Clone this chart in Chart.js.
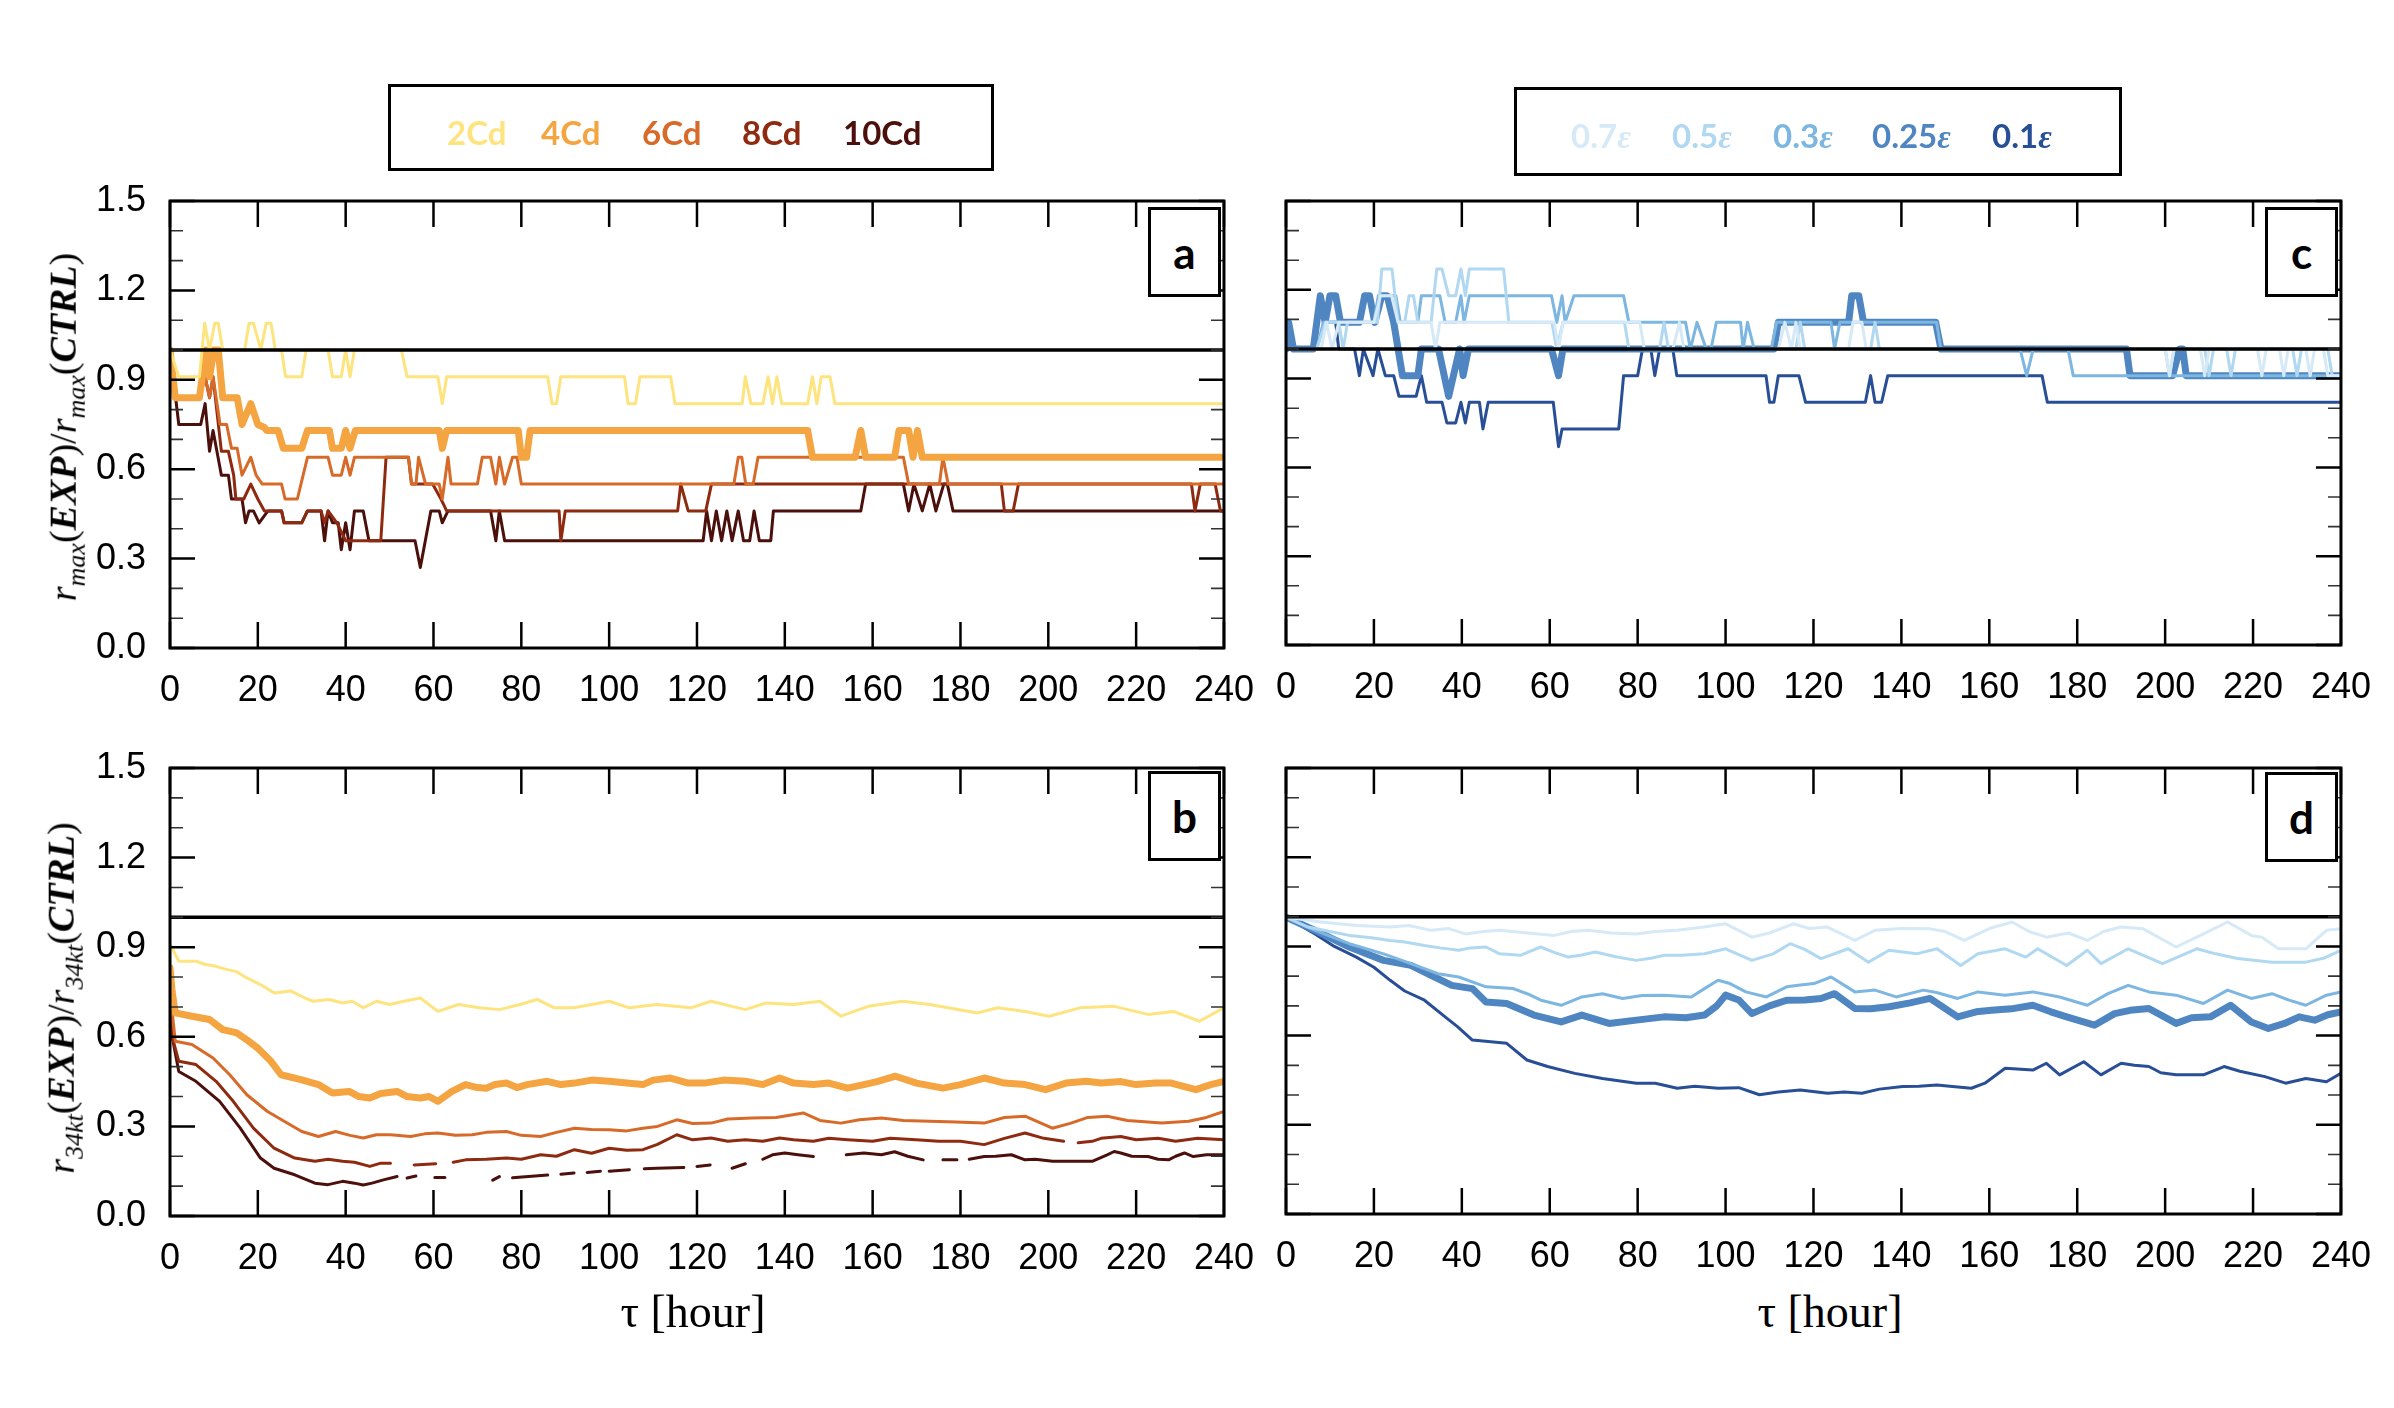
<!DOCTYPE html>
<html>
<head>
<meta charset="utf-8">
<script src="https://cdn.jsdelivr.net/npm/chart.js@4.4.0/dist/chart.umd.min.js"></script>
<style>
  body { margin: 0; background: #fff; width: 2394px; height: 1408px; position: relative; overflow: hidden; }
  canvas { position: absolute; }
  .box { position: absolute; border: 3px solid #000; box-sizing: border-box; }
  .item { position: absolute; transform: translateY(-50%); font-family: Lato, sans-serif; font-weight: 700; font-size: 33px; white-space: nowrap; }
  .item i { font-family: "Liberation Serif", serif; }
  .tag { position: absolute; border: 3px solid #000; box-sizing: border-box; background: #fff; font-family: Lato, sans-serif; font-weight: 700; font-size: 44px; display: flex; align-items: center; justify-content: center; }
  .ytitle { position: absolute; transform: translate(-50%, -50%) rotate(-90deg); font-family: "Liberation Serif", serif; font-size: 38px; white-space: nowrap; }
  .ytitle sub { font-size: 26px; font-style: italic; }
  .xtitle { position: absolute; transform: translate(-50%, -50%); font-family: "Liberation Serif", serif; font-size: 46px; white-space: nowrap; }
</style>
</head>
<body>
<canvas id="chartA"></canvas>
<canvas id="chartB"></canvas>
<canvas id="chartC"></canvas>
<canvas id="chartD"></canvas>

<div class="box" style="left:388px;top:84px;width:606px;height:87px"></div>
<div class="box" style="left:1514px;top:87px;width:608px;height:89px"></div>
<div id="legendA"></div>
<div id="legendC"></div>

<div class="tag" style="left:1148px;top:207px;width:73px;height:90px">a</div>
<div class="tag" style="left:1148px;top:771px;width:73px;height:90px">b</div>
<div class="tag" style="left:2265px;top:207px;width:73px;height:90px">c</div>
<div class="tag" style="left:2265px;top:772px;width:73px;height:90px">d</div>

<div class="ytitle" style="left:66px;top:427px"><i>r</i><sub>max</sub>(<b><i>EXP</i></b>)/<i>r</i><sub>max</sub>(<b><i>CTRL</i></b>)</div>
<div class="ytitle" style="left:64px;top:998px"><i>r</i><sub>34kt</sub>(<b><i>EXP</i></b>)/<i>r</i><sub>34kt</sub>(<b><i>CTRL</i></b>)</div>
<div class="xtitle" style="left:693px;top:1311px">τ [hour]</div>
<div class="xtitle" style="left:1830px;top:1311px">τ [hour]</div>

<script>
'use strict';

// tick values and labels
const xTickValues = [0, 20, 40, 60, 80, 100, 120, 140, 160, 180, 200, 220, 240];
const yTickValues = [0, 0.1, 0.2, 0.3, 0.4, 0.5, 0.6, 0.7, 0.8, 0.9, 1.0, 1.1, 1.2, 1.3, 1.4, 1.5];
const yLabelled = [0, 0.3, 0.6, 0.9, 1.2, 1.5];

// reference line at ratio 1
const refLine = [[0, 1], [240, 1]];

// legend names and colours
const cdNames = ['2Cd', '4Cd', '6Cd', '8Cd', '10Cd'];
const cdColors = ['#fde47f', '#f4a541', '#d76a28', '#8e2a10', '#4b0f0c'];
const cdWidths = [3, 7, 3, 3, 3];
const epsNames = ['0.7', '0.5', '0.3', '0.25', '0.1'];
const epsColors = ['#d6e9f7', '#b1d8f1', '#7cb6e1', '#4f86c2', '#284f96'];
const epsWidths = [3, 3, 3, 7, 3];

// panel a: r_max ratio, drag experiments  [hour, value]
const a2Cd = [[0,1.0],[2,0.91],[6.7,0.91],[7.9,1.09],[9,1.0],[10.2,1.09],[11,1.09],[12,1.0],[17,1.0],[18,1.09],[19,1.09],[20.7,1.0],[21.9,1.09],[23,1.09],[24,1.0],[25.4,1.0],[26.3,0.91],[30,0.91],[31,1.0],[36,1.0],[37,0.91],[39,0.91],[40,1.0],[41,0.91],[42,1.0],[52.7,1.0],[54,0.91],[61,0.91],[62,0.82],[63,0.91],[86,0.91],[87,0.82],[88,0.82],[89,0.91],[103.5,0.91],[104.3,0.82],[106,0.82],[107,0.91],[114,0.91],[115,0.82],[130.3,0.82],[131,0.91],[132.3,0.82],[135,0.82],[136.2,0.91],[137.2,0.82],[138.2,0.91],[139.3,0.82],[145.2,0.82],[146.3,0.91],[147.3,0.82],[148.3,0.91],[150.3,0.91],[151.4,0.82],[240,0.82]];
const a4Cd = [[0,1.0],[1.2,0.84],[6.7,0.84],[8.2,1.0],[9,0.91],[10,1.0],[11,1.0],[12,0.84],[15.3,0.84],[16.4,0.75],[18.4,0.82],[20,0.75],[21.5,0.74],[22,0.73],[24.6,0.73],[25.8,0.67],[30,0.67],[31.3,0.73],[36.3,0.73],[37,0.67],[39,0.67],[40,0.73],[41,0.67],[42.2,0.73],[61.3,0.73],[62,0.67],[63,0.73],[79.3,0.73],[80,0.64],[81.2,0.64],[82,0.73],[145.2,0.73],[146.3,0.64],[156,0.64],[157.3,0.73],[158.4,0.64],[165,0.64],[166,0.73],[168.2,0.73],[169.2,0.64],[170.2,0.73],[171.3,0.64],[240,0.64]];
const a6Cd = [[0,1.0],[1.2,0.84],[6.7,0.84],[8,0.91],[9,0.84],[9.8,0.91],[11.4,0.75],[12.9,0.75],[14,0.67],[15.3,0.67],[16.4,0.58],[18.4,0.64],[19.6,0.58],[21,0.55],[25.4,0.55],[26.2,0.5],[29,0.5],[31.3,0.64],[36,0.64],[37,0.58],[39,0.58],[40,0.64],[41,0.58],[42,0.64],[54.3,0.64],[55,0.55],[56,0.55],[56.6,0.64],[58.2,0.55],[61.3,0.55],[62,0.5],[63.3,0.64],[64,0.55],[70,0.55],[71.1,0.64],[73,0.64],[74.2,0.55],[75,0.64],[76.2,0.55],[78,0.64],[79,0.64],[80,0.55],[128.4,0.55],[129.4,0.64],[130.2,0.64],[131.1,0.55],[132.8,0.55],[133.9,0.64],[167,0.64],[168.2,0.55],[175.2,0.55],[176,0.64],[177.2,0.55],[240,0.55]];
const a8Cd = [[0,1.0],[1.2,0.84],[6.7,0.84],[8,0.91],[9,0.84],[9.8,0.91],[11.7,0.66],[13.3,0.66],[14.5,0.58],[15,0.5],[16.8,0.5],[18.4,0.55],[20,0.5],[21.5,0.46],[25.4,0.46],[26,0.42],[30,0.42],[31.3,0.46],[34.4,0.46],[35.2,0.42],[36,0.46],[38,0.42],[40,0.36],[48,0.36],[49.2,0.64],[54.3,0.64],[55,0.55],[59.8,0.55],[61.7,0.5],[63,0.46],[88.6,0.46],[89,0.36],[90,0.46],[115.6,0.46],[116.3,0.55],[118,0.46],[122,0.46],[123.3,0.55],[189.3,0.55],[190,0.46],[192,0.46],[193.2,0.55],[232.6,0.55],[233.4,0.46],[234.6,0.55],[238,0.55],[239.2,0.46],[240,0.46]];
const a10Cd = [[0,1.0],[2,0.75],[7,0.75],[8,0.82],[9,0.66],[9.8,0.73],[11.7,0.58],[13.3,0.58],[14,0.5],[16.4,0.5],[17.2,0.42],[18,0.46],[19,0.46],[20.3,0.42],[22.3,0.46],[25.4,0.46],[26,0.42],[30,0.42],[31.3,0.46],[34.4,0.46],[35.2,0.36],[36,0.46],[37,0.42],[38.3,0.42],[39,0.33],[40,0.42],[41,0.33],[42,0.46],[44,0.46],[45.3,0.36],[55.8,0.36],[57,0.27],[59.4,0.46],[61.3,0.46],[62,0.42],[63.3,0.46],[73,0.46],[74.2,0.36],[75,0.46],[76.2,0.36],[121.4,0.36],[122.2,0.46],[123.3,0.36],[124.4,0.46],[125.6,0.36],[126.8,0.46],[128,0.36],[129.4,0.46],[130.6,0.36],[132,0.36],[133,0.46],[134.2,0.36],[136.8,0.36],[137.4,0.46],[157.3,0.46],[158.4,0.55],[167,0.55],[168.2,0.46],[169.4,0.55],[171.3,0.46],[173,0.55],[174.4,0.46],[176.2,0.55],[177,0.55],[178.3,0.46],[240,0.46]];

// panel b: r_34kt ratio, drag experiments (null = gap)
const b2Cd = [[0,0.91],[2,0.853],[6,0.853],[8,0.842],[10.5,0.836],[13,0.825],[15,0.819],[17.5,0.797],[20.6,0.775],[23.7,0.747],[27.6,0.753],[30.7,0.73],[32.5,0.719],[36.2,0.725],[39.3,0.713],[41.5,0.719],[44,0.697],[47,0.719],[50,0.708],[53.3,0.719],[57,0.73],[61,0.685],[65.7,0.708],[70.4,0.697],[75,0.691],[79.7,0.708],[83.6,0.725],[87.5,0.697],[92,0.697],[100,0.719],[104.6,0.697],[110.8,0.708],[118.6,0.697],[123.2,0.719],[131,0.691],[135.7,0.713],[141.9,0.708],[148,0.719],[152.8,0.669],[159,0.702],[166.8,0.719],[173,0.708],[183.9,0.68],[188.5,0.697],[194.7,0.685],[200.2,0.669],[207.2,0.697],[215,0.702],[222.7,0.675],[228.5,0.685],[234.4,0.652],[240,0.697]];
const b4Cd = [[0,0.831],[0.5,0.75],[1.2,0.68],[5,0.669],[9,0.658],[12,0.624],[15.2,0.613],[17.5,0.59],[19.9,0.563],[23,0.518],[25.3,0.473],[30,0.456],[33.8,0.44],[37,0.412],[40.8,0.417],[43,0.4],[45.5,0.395],[48,0.41],[51.7,0.417],[54,0.4],[57,0.395],[59,0.4],[61,0.384],[64.2,0.417],[67.3,0.44],[70,0.43],[72,0.428],[74,0.44],[76.6,0.445],[79,0.43],[81.3,0.44],[85.9,0.451],[89,0.44],[92.1,0.445],[96,0.455],[100,0.451],[104,0.445],[107.7,0.44],[110,0.455],[113.9,0.462],[118,0.445],[121.7,0.445],[126,0.455],[131,0.451],[135,0.44],[138.8,0.462],[142,0.445],[146.5,0.44],[150,0.445],[154.3,0.428],[158,0.44],[161,0.45],[165.2,0.468],[170,0.445],[176,0.428],[180,0.44],[185.4,0.462],[190,0.445],[194.7,0.44],[199.4,0.423],[204,0.445],[208.7,0.451],[212,0.445],[216.5,0.45],[220,0.44],[224.3,0.445],[228,0.445],[233.6,0.423],[237,0.44],[240,0.451]];
const b6Cd = [[0,0.753],[1.2,0.585],[5,0.574],[9.8,0.529],[13.6,0.473],[17.5,0.406],[22.2,0.35],[26,0.317],[30,0.283],[33.8,0.266],[37.7,0.283],[41,0.27],[44,0.261],[47,0.272],[50.2,0.272],[54.8,0.266],[58,0.275],[61,0.278],[65,0.27],[68.8,0.272],[72,0.28],[76.6,0.283],[80,0.27],[84.4,0.266],[88,0.28],[92.1,0.294],[96,0.29],[100,0.289],[104,0.285],[107.7,0.294],[111,0.3],[115.4,0.322],[119,0.31],[123.2,0.311],[127,0.325],[132.5,0.328],[138,0.33],[144.2,0.345],[148,0.32],[152.8,0.311],[157,0.322],[162,0.328],[167,0.32],[173,0.317],[179,0.315],[185.4,0.311],[190,0.33],[194.7,0.334],[200.9,0.294],[205,0.31],[209,0.33],[213.4,0.334],[218,0.32],[225.8,0.311],[232,0.317],[236,0.33],[240,0.35]];
const b8Cd = [[0,0.719],[0.5,0.6],[2,0.518],[5.9,0.507],[10.5,0.451],[14.4,0.384],[19,0.294],[23.7,0.227],[28.4,0.194],[33,0.183],[36,0.19],[39.3,0.183],[42,0.18],[45.5,0.166],[48,0.177],[50.2,0.177],[51.5,null],[55.6,0.171],[60.5,0.175],[61.5,null],[64.5,0.18],[67.3,0.188],[72,0.19],[76.6,0.194],[80,0.19],[84.4,0.205],[88,0.2],[92.1,0.222],[96,0.21],[100,0.227],[104,0.22],[107.7,0.222],[111,0.24],[115.4,0.272],[119,0.255],[123.2,0.261],[127,0.25],[131,0.255],[135,0.25],[138.8,0.261],[142,0.255],[146.5,0.25],[150,0.26],[154.3,0.255],[160,0.25],[164,0.26],[169.9,0.255],[175,0.25],[180,0.25],[185.4,0.239],[190,0.26],[194.7,0.278],[199,0.26],[203.5,0.25],[204.5,null],[206.8,0.245],[210,0.25],[212,0.26],[216.5,0.266],[220,0.255],[225,0.26],[229,0.25],[234,0.26],[240,0.255]];
const b10Cd = [[0,0.68],[0.5,0.6],[2,0.484],[5.9,0.451],[11.3,0.384],[16,0.294],[20.6,0.194],[23.7,0.16],[28.4,0.138],[33,0.11],[36,0.105],[39.3,0.116],[42,0.11],[44,0.104],[46,0.11],[48.6,0.121],[51.7,0.132],[52.5,null],[54,0.127],[56,0.134],[57,null],[60.3,0.129],[62.6,0.129],[63.5,null],[73.5,0.12],[75,0.132],[76,null],[78,0.128],[86,0.137],[87,null],[89,0.14],[92,0.144],[93,null],[95,0.146],[98,0.15],[99,null],[100,0.15],[104.6,0.155],[106,null],[108,0.158],[110.8,0.16],[117,0.162],[118,null],[120,0.166],[123,0.171],[124,null],[128,0.16],[131,0.175],[132.5,null],[135,0.19],[137.2,0.205],[140,0.211],[143,0.205],[146.5,0.199],[148,null],[154,0.205],[158,0.211],[162,0.205],[165,0.215],[168,0.2],[171.5,0.188],[172.5,null],[176,0.188],[179.2,0.188],[180,null],[182,0.19],[185.4,0.199],[188,0.2],[191.6,0.205],[194.7,0.188],[197,0.19],[201,0.183],[205,0.183],[210,0.183],[213.4,0.205],[215,0.216],[216.5,0.211],[219,0.2],[222.7,0.199],[225,0.19],[227.4,0.188],[229,0.2],[231,0.211],[233,0.199],[236,0.205],[240,0.205]];

// panel c: r_max ratio, epsilon experiments
const c07 = [[0,1.0],[8,1.0],[9.2,1.09],[10.5,1.0],[12,1.09],[20,1.09],[21.5,1.18],[24,1.18],[25.5,1.09],[33,1.09],[34,1.0],[35,1.09],[61,1.09],[62,1.0],[63,1.09],[80.5,1.09],[81.5,1.0],[88,1.0],[89.5,1.09],[90.5,1.0],[112,1.0],[113.5,1.09],[115,1.0],[116,1.09],[117,1.0],[128,1.0],[129,1.09],[131,1.09],[132,1.0],[200,1.0],[201,0.91],[202,1.0],[208,1.0],[209,0.91],[210,1.0],[221,1.0],[222,0.91],[223,1.0],[226,1.0],[227,0.91],[228,1.0],[232,1.0],[233,0.91],[234,1.0],[236,1.0],[237,0.91],[240,0.91]];
const c05 = [[0,1.0],[7,1.0],[9,1.09],[12,1.09],[13,1.0],[14,1.09],[20.8,1.09],[21.8,1.27],[24.1,1.27],[25.5,1.09],[27,1.09],[28,1.18],[29,1.18],[30,1.09],[33,1.09],[34.3,1.27],[35.5,1.27],[37,1.18],[38.6,1.18],[39.8,1.27],[40.8,1.18],[41.7,1.27],[49.5,1.27],[50.7,1.09],[60.5,1.09],[61.6,1.0],[63,1.09],[77,1.09],[78,1.0],[85,1.0],[86,1.09],[87,1.0],[116,1.0],[117,1.09],[118,1.0],[133,1.0],[134,1.09],[135,1.0],[200,1.0],[201,0.91],[202,1.0],[209,1.0],[210,0.91],[211,1.0],[214,1.0],[215,0.91],[216,1.0],[229,1.0],[230,0.91],[231,1.0],[237,1.0],[238,0.91],[240,0.91]];
const c03 = [[0,1.0],[7,1.0],[8.5,1.09],[20,1.09],[21,1.18],[25,1.18],[26,1.09],[30,1.09],[30.8,1.18],[35,1.18],[36.2,1.09],[38.6,1.09],[39.8,1.18],[40.5,1.09],[41.7,1.18],[60.4,1.18],[61.6,1.09],[62.8,1.18],[63.5,1.09],[65.5,1.18],[76.8,1.18],[78,1.09],[90.9,1.09],[92,1.0],[93.5,1.09],[95.6,1.0],[96.7,1.0],[97.9,1.09],[103.4,1.09],[104,1.0],[105,1.09],[106.5,1.0],[110.4,1.0],[111.6,1.09],[124,1.09],[124.8,1.0],[126,1.09],[148,1.09],[149,1.0],[167,1.0],[168.5,0.91],[170,1.0],[177.9,1.0],[179.1,0.91],[240,0.91]];
const c025 = [[0,1.0],[0.6,1.09],[1.7,1.0],[6.2,1.0],[7.8,1.18],[8.9,1.09],[10,1.18],[11.3,1.18],[12.4,1.09],[16.7,1.09],[17.9,1.18],[19,1.18],[20.2,1.09],[21.8,1.18],[23,1.18],[24.5,1.09],[26.5,0.91],[30,0.91],[30.8,1.0],[34.7,1.0],[37,0.84],[39.5,1.0],[40.3,0.91],[41.5,1.0],[60.4,1.0],[62,0.91],[63,1.0],[111,1.0],[112,1.09],[128,1.09],[128.7,1.18],[130.3,1.18],[131.4,1.09],[147.8,1.09],[149,1.0],[191.2,1.0],[192,0.91],[201.7,0.91],[203.3,1.0],[204,1.0],[204.8,0.91],[240,0.91]];
const c01 = [[0,1.0],[0.4,1.09],[1.2,1.0],[6.2,1.0],[7.8,1.18],[8.9,1.09],[11.3,1.09],[12,1.0],[15.6,1.0],[16.7,0.91],[17.6,1.0],[19.8,0.91],[20.9,1.0],[22.6,0.91],[24.5,0.91],[25.7,0.84],[29.6,0.84],[30.8,0.91],[32,0.82],[35.5,0.82],[36.6,0.75],[38.6,0.75],[39.8,0.82],[40.8,0.75],[41.7,0.82],[44,0.82],[44.8,0.73],[46,0.82],[60.8,0.82],[62,0.67],[62.8,0.73],[75.7,0.73],[76.8,0.91],[80,0.91],[81.1,1.0],[83,1.0],[83.9,0.91],[85,1.0],[88,1.0],[88.9,0.91],[109.2,0.91],[110,0.82],[111,0.82],[112,0.91],[116.7,0.91],[118.2,0.82],[131.8,0.82],[133,0.91],[134,0.82],[135.5,0.82],[136.9,0.91],[172,0.91],[173.2,0.82],[240,0.82]];

// panel d: r_34kt ratio, epsilon experiments
const d07 = [[0,0.998],[8,0.982],[16,0.97],[23.7,0.965],[28,0.97],[33,0.954],[37,0.96],[40.8,0.942],[45,0.95],[48.6,0.954],[55,0.945],[61,0.937],[65,0.95],[68.8,0.954],[74,0.945],[79.7,0.942],[84,0.95],[89,0.954],[95,0.965],[100,0.976],[106,0.931],[110,0.945],[115.4,0.976],[119,0.96],[123.2,0.965],[129.4,0.92],[134,0.954],[140,0.96],[146.5,0.959],[150,0.95],[154.3,0.92],[160,0.96],[165.2,0.982],[169,0.95],[173,0.931],[178,0.945],[182.3,0.92],[186,0.95],[190,0.965],[195,0.959],[202.5,0.898],[207.2,0.931],[214.2,0.982],[219.6,0.937],[222,0.931],[225.8,0.892],[232,0.892],[236.7,0.954],[240,0.959]];
const d05 = [[0,0.998],[5,0.965],[10,0.95],[14.4,0.937],[19,0.93],[23.7,0.92],[27,0.915],[31.5,0.903],[35,0.895],[39.3,0.887],[42,0.895],[45.5,0.898],[48.6,0.875],[53.3,0.87],[57.9,0.898],[61,0.88],[64.2,0.864],[67,0.87],[70.4,0.881],[75,0.865],[79.7,0.853],[83,0.86],[86,0.87],[90,0.87],[95.2,0.875],[100,0.892],[106,0.853],[110.8,0.875],[114.7,0.909],[118,0.89],[121.7,0.859],[127.9,0.892],[132.5,0.847],[137.2,0.887],[143.4,0.875],[148.1,0.892],[153.5,0.836],[157.4,0.875],[163.6,0.892],[168.3,0.864],[171,0.892],[177.6,0.836],[182.3,0.887],[185.4,0.842],[191.6,0.892],[199.4,0.842],[207.2,0.892],[211.5,0.875],[216.5,0.859],[224.3,0.847],[232,0.847],[236,0.86],[240,0.887]];
const d03 = [[0,0.998],[6.6,0.954],[14.4,0.909],[22.2,0.875],[28.4,0.842],[34.6,0.808],[39.3,0.797],[45.5,0.764],[51.7,0.758],[55,0.74],[58,0.719],[62.6,0.702],[67.3,0.73],[72,0.741],[76.6,0.725],[81,0.735],[86,0.736],[92.2,0.73],[95.2,0.758],[98.3,0.786],[101,0.775],[104.6,0.747],[109.3,0.73],[113.9,0.764],[117,0.77],[120.1,0.775],[124,0.797],[129.4,0.747],[134,0.753],[138.8,0.73],[145,0.753],[148,0.745],[152.8,0.725],[157.4,0.747],[163.6,0.736],[169.9,0.747],[176,0.73],[182.3,0.702],[187,0.741],[191.6,0.769],[196.3,0.747],[202.5,0.736],[208.7,0.708],[214.2,0.753],[219.6,0.725],[224.3,0.741],[228,0.72],[232,0.702],[236.7,0.736],[240,0.747]];
const d025 = [[0,0.998],[6.6,0.954],[14.4,0.898],[22.2,0.853],[28.4,0.836],[33,0.803],[37.7,0.769],[42.4,0.758],[45.5,0.713],[50.2,0.708],[56.4,0.669],[62.6,0.646],[67.3,0.669],[73.5,0.641],[79.7,0.652],[86,0.663],[91,0.66],[95.2,0.669],[98,0.7],[100,0.736],[103,0.72],[106,0.674],[110,0.7],[113.9,0.719],[118,0.72],[121.7,0.725],[124.8,0.741],[129.4,0.691],[133,0.69],[137.2,0.697],[142,0.71],[146.5,0.725],[152.8,0.663],[157,0.68],[160.5,0.685],[165,0.69],[169.9,0.702],[174,0.68],[177.6,0.663],[183.9,0.635],[188.5,0.674],[192,0.685],[196.3,0.691],[202.5,0.641],[206,0.66],[210.3,0.663],[214.9,0.702],[219.6,0.646],[223.5,0.624],[227,0.64],[230.5,0.663],[234,0.652],[237,0.67],[240,0.68]];
const d01 = [[0,0.998],[6.6,0.942],[11,0.9],[16,0.864],[20,0.83],[23.7,0.786],[27,0.75],[31.5,0.719],[36.2,0.663],[39,0.63],[42.4,0.585],[46,0.58],[50.2,0.574],[54.8,0.518],[59.5,0.496],[65.7,0.473],[72,0.456],[79.7,0.44],[84,0.44],[89,0.423],[93,0.43],[98.3,0.423],[103,0.425],[107.7,0.401],[112,0.41],[117,0.417],[123.2,0.406],[127,0.41],[131,0.406],[135,0.42],[140.3,0.429],[144,0.43],[148.1,0.434],[151,0.43],[155.9,0.423],[159,0.44],[163.6,0.49],[169.9,0.484],[173,0.507],[176,0.468],[181.5,0.512],[185.4,0.468],[190,0.507],[193,0.5],[196.3,0.496],[199,0.475],[202.5,0.468],[208.7,0.468],[213.4,0.496],[217,0.48],[222.7,0.462],[227.4,0.44],[232,0.456],[236.7,0.445],[240,0.473]];

// legends (html text)
function buildLegend(elemId, names, colors, lefts, top, eps) {
  let holder = document.getElementById(elemId);
  for (let i = 0; i < names.length; i++) {
    let s = document.createElement('span');
    s.className = 'item';
    s.style.left = lefts[i] + 'px';
    s.style.top = top + 'px';
    s.style.color = colors[i];
    s.innerHTML = eps ? names[i] + '<i>ε</i>' : names[i];
    holder.appendChild(s);
  }
}
buildLegend('legendA', cdNames, cdColors, [447, 541, 642, 742, 843], 132, false);
buildLegend('legendC', epsNames, epsColors, [1571, 1672, 1773, 1872, 1992], 135, true);

// inward ticks on all four sides plus the frame
const frameTicks = {
  id: 'frameTicks',
  afterDatasetsDraw(chart) {
    let ctx = chart.ctx;
    let area = chart.chartArea;
    let xs = chart.scales.x;
    let ys = chart.scales.y;
    ctx.save();
    ctx.strokeStyle = '#000';
    ctx.beginPath();
    ctx.lineWidth = 2.5;
    xs.ticks.forEach(t => {
      let px = xs.getPixelForValue(t.value);
      ctx.moveTo(px, area.bottom); ctx.lineTo(px, area.bottom - 26);
      ctx.moveTo(px, area.top); ctx.lineTo(px, area.top + 26);
    });
    ctx.stroke();
    ys.ticks.forEach((t, i) => {
      let py = ys.getPixelForValue(t.value);
      let major = i % 3 === 0;
      let len = major ? 25 : 13;
      ctx.beginPath();
      ctx.lineWidth = major ? 2.5 : 1.6;
      ctx.strokeStyle = major ? '#000' : '#333';
      ctx.moveTo(area.left, py); ctx.lineTo(area.left + len, py);
      ctx.moveTo(area.right, py); ctx.lineTo(area.right - len, py);
      ctx.stroke();
    });
    ctx.lineWidth = 3;
    ctx.strokeStyle = '#000';
    ctx.strokeRect(area.left, area.top, area.right - area.left, area.bottom - area.top);
    ctx.restore();
  }
};

function toPoints(arr) {
  return arr.map(p => ({ x: p[0], y: p[1] }));
}

function makePanel(canvasId, box, series, colors, widths, showYLabels) {
  // padT has to cover half a tick label plus its padding, or chart.js pushes the area down
  let padL = 150, padT = 55, padR = 45, padB = 70;
  let canvasElem = document.getElementById(canvasId);
  canvasElem.width = box.w + padL + padR;
  canvasElem.height = box.h + padT + padB;
  canvasElem.style.left = (box.x - padL) + 'px';
  canvasElem.style.top = (box.y - padT) + 'px';

  let tickFont = { family: '"Liberation Sans", Arial, sans-serif', size: 36 };

  let datasets = [{
    data: toPoints(refLine),
    borderColor: '#000',
    borderWidth: 3.5,
    pointRadius: 0
  }];
  for (let i = 0; i < series.length; i++) {
    datasets.push({
      data: toPoints(series[i]),
      borderColor: colors[i],
      borderWidth: widths[i],
      pointRadius: 0,
      tension: 0,
      spanGaps: false,
      borderJoinStyle: 'round',
      borderCapStyle: 'round'
    });
  }

  new Chart(canvasElem, {
    type: 'line',
    data: { datasets: datasets },
    options: {
      responsive: false,
      animation: false,
      layout: { padding: { left: 0, top: padT, right: padR, bottom: 0 } },
      plugins: { legend: { display: false }, tooltip: { enabled: false } },
      scales: {
        x: {
          type: 'linear',
          min: 0,
          max: 240,
          afterBuildTicks: s => { s.ticks = xTickValues.map(v => ({ value: v })); },
          afterFit: s => { s.height = padB; },
          grid: { display: false, drawTicks: false },
          border: { display: false },
          ticks: { font: tickFont, color: '#000', padding: 21, maxRotation: 0, autoSkip: false }
        },
        y: {
          min: 0,
          max: 1.5,
          afterBuildTicks: s => { s.ticks = yTickValues.map(v => ({ value: v })); },
          afterFit: s => { s.width = padL; },
          grid: { display: false, drawTicks: false },
          border: { display: false },
          ticks: {
            font: tickFont,
            color: '#000',
            padding: 24,
            autoSkip: false,
            callback: v => (showYLabels && yLabelled.some(l => Math.abs(l - v) < 1e-6)) ? v.toFixed(1) : ''
          }
        }
      }
    },
    plugins: [frameTicks]
  });
}

makePanel('chartA', { x: 170, y: 201, w: 1060, h: 447 }, [a2Cd, a4Cd, a6Cd, a8Cd, a10Cd], cdColors, cdWidths, true);
makePanel('chartB', { x: 170, y: 768, w: 1060, h: 448 }, [b2Cd, b4Cd, b6Cd, b8Cd, b10Cd], cdColors, cdWidths, true);
makePanel('chartC', { x: 1286, y: 201, w: 1061, h: 444 }, [c07, c05, c03, c025, c01], epsColors, epsWidths, false);
makePanel('chartD', { x: 1286, y: 768, w: 1061, h: 446 }, [d07, d05, d03, d025, d01], epsColors, epsWidths, false);
</script>
</body>
</html>
